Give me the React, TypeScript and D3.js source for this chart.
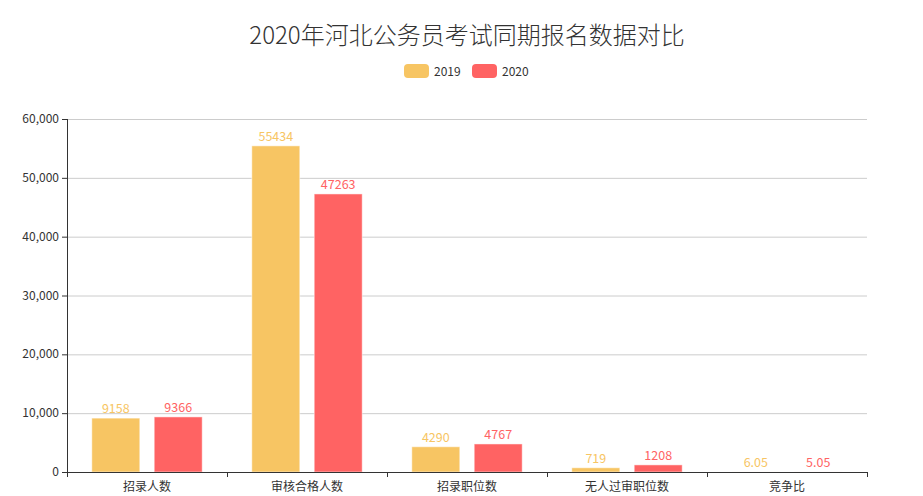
import React from "react";
import * as d3 from "d3";

const categories = ["招录人数", "审核合格人数", "招录职位数", "无人过审职位数", "竞争比"];
const series2019 = [9158, 55434, 4290, 719, 6.05];
const series2020 = [9366, 47263, 4767, 1208, 5.05];
const seriesNames = ["2019", "2020"];
const yTicks = [0, 10000, 20000, 30000, 40000, 50000, 60000];
const title = "2020年河北公务员考试同期报名数据对比";

const colors = ["#F7C563", "#FF6363"];
const W = 923, H = 496;
const margin = { left: 67, right: 56, top: 119, bottom: 24 };
const FONT = "'Noto Sans CJK SC', 'Noto Sans', sans-serif";

export default function App() {
  const x = d3.scaleBand().domain(categories).range([margin.left, W - margin.right]);
  const y = d3.scaleLinear().domain([0, 60000]).range([H - margin.bottom, margin.top]);
  const bw = x.bandwidth() * 0.3;
  const gap = bw * 0.3;
  const offset = (x.bandwidth() - (2 * bw + gap)) / 2;
  const data = [series2019, series2020];
  const fmt = d3.format(",");
  const y0 = y(0);
  return (
    <svg width={W} height={H} style={{ position: "absolute", left: 0, top: 0, fontFamily: FONT }}>
      <rect width={W} height={H} fill="#fff" />
      <text x={467} y={44} textAnchor="middle" fontSize={24} fontWeight={300} fill="#333">{title}</text>
      {seriesNames.map((n, i) => (
        <g key={n} transform={`translate(${404 + i * 68},64)`}>
          <rect width={25} height={14} rx={4} fill={colors[i]} />
          <text x={30} y={11.5} fontSize={12} fill="#333">{n}</text>
        </g>
      ))}
      {yTicks.map(t => (
        <g key={t}>
          {t > 0 && <line x1={margin.left} x2={W - margin.right} y1={y(t) + 0.5} y2={y(t) + 0.5} stroke="#ccc" />}
          <line x1={margin.left - 5} x2={margin.left} y1={y(t) + 0.5} y2={y(t) + 0.5} stroke="#333" />
          <text x={margin.left - 8} y={y(t) + 4} textAnchor="end" fontSize={12} fill="#333">{fmt(t)}</text>
        </g>
      ))}
      {categories.map((c, ci) =>
        data.map((s, si) => {
          const bx = (x(c) as number) + offset + si * (bw + gap);
          const by = y(s[ci]);
          return (
            <g key={c + si}>
              <rect x={bx} y={by} width={bw} height={y0 - by} fill={colors[si]} stroke="#fff" strokeOpacity={0.5} strokeWidth={1} />
              <text x={bx + bw / 2} y={by - 5} textAnchor="middle" fontSize={12.5} fill={colors[si]}>{s[ci]}</text>
            </g>
          );
        })
      )}
      <line x1={margin.left + 0.5} x2={margin.left + 0.5} y1={margin.top} y2={y0} stroke="#333" />
      <line x1={margin.left} x2={W - margin.right} y1={y0 + 0.5} y2={y0 + 0.5} stroke="#333" />
      {[...categories.map(c => x(c) as number), W - margin.right].map((t, i) => (
        <line key={i} x1={t + 0.5} x2={t + 0.5} y1={y0} y2={y0 + 5} stroke="#333" />
      ))}
      {categories.map(c => (
        <text key={c} x={(x(c) as number) + x.bandwidth() / 2} y={y0 + 19} textAnchor="middle" fontSize={12} fill="#333">{c}</text>
      ))}
    </svg>
  );
}
